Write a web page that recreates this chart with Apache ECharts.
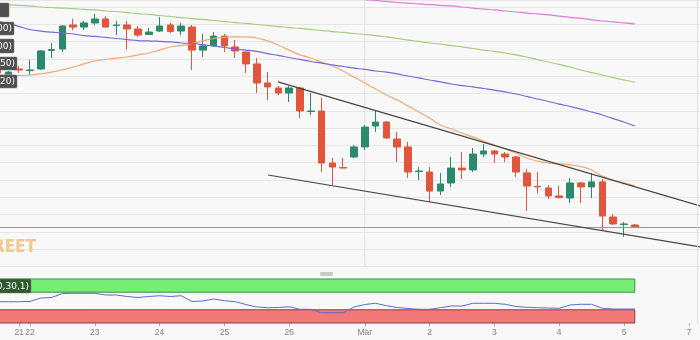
<!DOCTYPE html>
<html><head><meta charset="utf-8">
<script src="https://cdn.jsdelivr.net/npm/echarts@6/dist/echarts.min.js"></script>
<style>html,body{margin:0;padding:0;background:#f8f8f8}#c{width:700px;height:340px}</style>
</head><body><div id="c"></div>
<script>
// XAU/USD 4h candles: [open, close, low, high]
const candles = [
[1784.2,1781.9,1780.7,1785.3],[1780.7,1782.4,1780.1,1783.0],[1784.2,1783.6,1781.9,1785.9],[1783.3,1783.6,1780.7,1789.4],
[1784.2,1794.6,1783.6,1795.1],[1794.9,1795.4,1790.5,1799.2],[1795.7,1809.0,1794.0,1809.6],[1809.6,1808.4,1806.7,1813.1],
[1808.4,1810.8,1806.7,1811.9],[1810.8,1813.1,1809.6,1816.0],[1813.1,1808.4,1808.2,1814.8],[1809.3,1809.6,1803.8,1811.9],
[1809.6,1807.3,1795.7,1811.9],[1807.3,1803.8,1802.7,1809.0],[1804.1,1805.5,1803.8,1807.9],[1806.1,1809.0,1805.5,1814.2],
[1809.6,1805.8,1805.0,1810.8],[1806.1,1809.0,1803.8,1810.8],[1808.4,1795.1,1783.6,1809.6],[1795.1,1797.5,1791.1,1804.4],
[1797.5,1803.2,1796.9,1805.5],[1803.2,1797.5,1794.0,1804.4],[1796.9,1794.6,1790.5,1800.9],[1794.0,1787.1,1781.9,1794.3],
[1787.1,1776.1,1770.3,1790.5],[1776.1,1773.8,1766.2,1782.4],[1773.2,1770.3,1769.1,1774.3],[1770.3,1773.2,1765.1,1774.3],
[1773.2,1759.9,1755.8,1773.8],[1759.6,1759.9,1757.6,1770.3],[1759.9,1729.8,1724.6,1767.4],[1729.8,1727.5,1717.1,1732.7],
[1727.2,1726.9,1726.7,1732.7],[1733.3,1739.1,1732.7,1740.2],[1739.1,1750.6,1737.3,1751.8],[1751.2,1753.5,1747.8,1759.9],
[1753.5,1744.3,1743.7,1754.1],[1743.7,1739.1,1730.4,1747.8],[1739.1,1724.6,1721.2,1742.0],[1724.9,1725.2,1720.0,1727.5],
[1724.6,1713.6,1707.3,1727.5],[1713.6,1717.7,1711.3,1724.1],[1718.3,1726.9,1716.0,1733.3],[1726.9,1725.8,1720.6,1736.2],
[1725.8,1735.0,1724.6,1738.5],[1735.0,1736.8,1733.3,1740.8],[1736.8,1735.0,1729.8,1737.3],[1735.0,1733.3,1730.4,1736.2],
[1733.3,1724.6,1721.7,1733.9],[1724.1,1716.5,1702.1,1726.4],[1716.3,1716.0,1712.5,1724.6],[1715.4,1710.8,1709.0,1717.1],
[1710.8,1709.9,1709.3,1716.5],[1709.6,1718.3,1706.7,1721.2],[1718.3,1716.0,1706.7,1718.9],[1716.0,1718.9,1709.6,1724.1],
[1718.9,1699.2,1690.5,1720.6],[1698.6,1694.6,1694.0,1700.3],[1694.3,1694.6,1687.1,1695.7],[1694.0,1692.8,1692.3,1694.6]
];
const ma20 = [1780.7,1780.7,1780.4,1780.7,1781.3,1782.4,1783.6,1785.3,1787.1,1788.8,1789.7,1790.5,1791.1,1792.3,1793.4,1795.1,
1796.9,1797.7,1798.9,1800.4,1801.8,1802.4,1802.7,1802.7,1802.1,1800.4,1798.0,1795.1,1792.3,1790.5,1788.2,1785.9,1783.0,
1779.5,1776.1,1772.6,1769.1,1766.2,1762.8,1759.3,1755.8,1751.8,1749.5,1747.2,1744.9,1742.5,1740.2,1737.9,1735.6,1732.7,
1731.0,1729.8,1729.3,1728.7,1727.8,1725.8,1722.3,1720.0,1718.3,1716.5];
const ma50 = [1811.6,1810.5,1808.7,1807.0,1806.1,1805.5,1805.0,1804.4,1803.5,1803.0,1802.4,1801.8,1801.2,1800.6,1800.4,1800.1,
1799.8,1799.2,1798.9,1798.3,1797.5,1796.6,1795.7,1795.1,1794.3,1793.1,1792.0,1790.8,1789.7,1788.5,1787.6,1786.5,1785.6,
1784.7,1783.9,1783.0,1782.4,1781.3,1780.1,1779.0,1777.8,1776.7,1775.5,1774.6,1773.8,1772.9,1772.0,1770.9,1769.7,1768.3,
1766.8,1765.4,1763.9,1762.5,1761.0,1759.3,1757.6,1755.5,1753.5,1751.2];
const ma100 = [1822.0,1821.4,1820.9,1820.6,1820.0,1819.7,1819.4,1819.1,1818.6,1818.3,1817.7,1817.4,1816.8,1816.2,1815.7,1815.1,
1814.5,1813.9,1813.3,1812.8,1812.2,1811.6,1811.0,1810.5,1809.9,1809.3,1808.7,1808.1,1807.6,1807.0,1806.4,1805.8,1805.3,
1804.7,1804.1,1803.5,1802.7,1801.8,1800.9,1800.1,1799.2,1798.6,1797.7,1796.9,1796.0,1795.1,1794.3,1793.4,1792.3,1791.1,
1789.6,1788.2,1786.8,1785.3,1783.6,1782.1,1780.7,1779.2,1777.8,1776.6];
const ma200 = [null,null,null,null,null,null,null,null,null,null,null,null,null,null,null,null,null,null,null,null,null,null,
null,null,null,null,null,null,null,null,null,null,null,
1824.9,1824.3,1823.8,1823.2,1822.6,1822.3,1821.8,1821.4,1821.0,1820.6,1820.0,1819.4,1818.8,1818.3,1817.7,1817.1,1816.5,
1816.0,1815.4,1814.7,1814.0,1813.4,1812.6,1811.9,1811.4,1810.8,1810.2];
const osc = [48.4,48.4,48.4,48.9,56.8,58.0,67.0,67.5,67.5,67.5,63.6,63.6,60.2,58.0,60.2,62.0,60.2,62.0,48.9,50.0,54.5,50.7,
48.4,42.0,36.4,34.8,35.2,37.0,31.1,31.1,23.4,23.4,23.4,36.4,42.0,44.8,39.3,35.2,33.0,31.1,31.1,34.8,38.6,38.6,44.8,44.8,
44.8,42.5,37.5,35.7,34.8,34.1,33.4,40.9,42.5,42.5,33.4,31.8,31.8,31.8];
const upperTrend = [[25.96,1776.7],[65.04,1705.0]];
const lowerTrend = [[25.04,1722.9],[65.04,1681.3]];
const lastPrice = 1692.8;
const tickIndex = [2,3,9,15,21,27,34,40,46,52,58,64];
const tickText = ['21','22','23','24','25','26','Mar','2','3','4','5','7'];
const slots = 66;
const monthStart = 34;
const oscHigh = 70, oscLow = 30;

const cats = Array.from({length: slots}, (_, i) => String(i));
const labelA = {}, labelB = {};
tickIndex.forEach((k, j) => { (j % 2 === 0 ? labelA : labelB)[k] = tickText[j]; });
const last = candles.length - 1;

const chart = echarts.init(document.getElementById('c'), null, {renderer: 'canvas'});
const gridBase = {left: -7.8, right: -5, containLabel: false, outerBoundsMode: 'none'};
const boxFont = '9px "DejaVu Sans", sans-serif';
function tag(y, h, w, text, fill) {
  return [
    {type: 'rect', z: 100, shape: {x: -2, y: y, width: w + 2, height: h, r: 1}, style: {fill: fill, stroke: '#777', lineWidth: 0.5}},
    {type: 'text', z: 101, style: {x: w - 2, y: y + h / 2 + 0.5, text: text, align: 'right', verticalAlign: 'middle', fill: '#fff', font: boxFont}}
  ];
}
function dayAxis(map) {
  const has = (i) => map[i] !== undefined;
  return {type: 'category', gridIndex: 1, position: 'bottom', offset: 0, data: cats, boundaryGap: true, axisLine: {show: false},
    axisTick: {show: true, alignWithLabel: true, interval: has, length: 3, lineStyle: {color: '#aaa'}},
    axisLabel: {show: true, interval: has, hideOverlap: false, formatter: (v, i) => map[i] || '', color: '#808080', fontSize: 8.5, margin: 5, fontFamily: '"Liberation Sans", Arial, sans-serif'},
    splitLine: {show: false}};
}
chart.setOption({
  backgroundColor: '#f8f8f8',
  animation: false,
  grid: [
    Object.assign({top: 0, height: 266.5}, gridBase),
    Object.assign({top: 279, height: 44}, gridBase)
  ],
  xAxis: [
    {type: 'category', gridIndex: 0, data: cats, boundaryGap: true, axisLine: {show: false}, axisTick: {show: false}, axisLabel: {show: false}, splitLine: {show: false}},
    dayAxis(labelA),
    {type: 'value', gridIndex: 0, min: -0.5, max: slots - 0.5, show: false},
    dayAxis(labelB)
  ],
  yAxis: [
    {type: 'value', gridIndex: 0, min: 1670, max: 1824.05, interval: 10, axisLine: {show: false}, axisTick: {show: false}, axisLabel: {show: false},
      splitLine: {show: true, lineStyle: {color: '#e6e6e6', width: 1}}},
    {type: 'value', gridIndex: 1, min: 0, max: 100, show: false, splitLine: {show: false}}
  ],
  graphic: [
    {type: 'text', z: 50, style: {x: 36, y: 248, text: 'FXSTREET', align: 'right', verticalAlign: 'middle', fill: '#f3c88c', font: 'bold 17px "DejaVu Sans Condensed", "DejaVu Sans", sans-serif'}},
    {type: 'rect', z: 50, shape: {x: 320, y: 272, width: 13, height: 4, r: 1}, style: {fill: '#c9c9c9'}},
    {type: 'line', z: 50, shape: {x1: 697.5, y1: 0, x2: 697.5, y2: 324}, style: {stroke: '#e2e2e2', lineWidth: 1}},
    ...tag(3, 14, 9, '', '#505050'),
    ...tag(22, 13, 14, 'SMA(200)', '#505050'),
    ...tag(39, 14, 14, 'SMA(100)', '#505050'),
    ...tag(57, 13, 17, 'SMA(50)', '#505050'),
    ...tag(75, 13, 17, 'SMA(20)', '#505050'),
    ...tag(279, 14, 31, 'RSI(14,70,30,1)', '#2e5a2e')
  ],
  series: [
    {type: 'line', xAxisIndex: 2, yAxisIndex: 0, data: [[monthStart, 1670], [monthStart, 1824.05]], showSymbol: false, silent: true, z: 1,
      lineStyle: {color: '#e2e2e2', width: 1}},
    {type: 'candlestick', xAxisIndex: 0, yAxisIndex: 0, data: candles, barWidth: 7, z: 3,
      itemStyle: {color: '#2b8a6c', color0: '#e0553c', borderColor: '#2b8a6c', borderColor0: '#e0553c', borderWidth: 1},
      markLine: {silent: true, symbol: 'none', label: {show: false}, z: 4,
        lineStyle: {color: '#8e9aae', width: 1, type: 'solid'},
        data: [{yAxis: lastPrice}]}},
    {type: 'line', xAxisIndex: 0, yAxisIndex: 0, data: ma20, smooth: true, showSymbol: false, z: 4, lineStyle: {color: '#f1a874', width: 1.2}},
    {type: 'line', xAxisIndex: 0, yAxisIndex: 0, data: ma50, smooth: true, showSymbol: false, z: 4, lineStyle: {color: '#7c66d8', width: 1.2}},
    {type: 'line', xAxisIndex: 0, yAxisIndex: 0, data: ma100, smooth: true, showSymbol: false, z: 4, lineStyle: {color: '#a6cd78', width: 1.2}},
    {type: 'line', xAxisIndex: 0, yAxisIndex: 0, data: ma200, smooth: true, showSymbol: false, z: 4, lineStyle: {color: '#e07ade', width: 1.2}},
    {type: 'line', xAxisIndex: 2, yAxisIndex: 0, data: upperTrend, showSymbol: false, z: 5, lineStyle: {color: '#454545', width: 1.2}},
    {type: 'line', xAxisIndex: 2, yAxisIndex: 0, data: lowerTrend, showSymbol: false, z: 5, lineStyle: {color: '#454545', width: 1.2}},
    {type: 'line', xAxisIndex: 1, yAxisIndex: 1, data: osc, showSymbol: false, z: 5, lineStyle: {color: '#5b6dcf', width: 1},
      markArea: {silent: true, data: [
        [{xAxis: '0', yAxis: oscHigh, itemStyle: {color: '#74ee74', borderColor: '#3e8e3e', borderWidth: 1}}, {xAxis: String(last), yAxis: 100}],
        [{xAxis: '0', yAxis: 0, itemStyle: {color: '#f37878', borderColor: '#8e3e3e', borderWidth: 1}}, {xAxis: String(last), yAxis: oscLow}]
      ]}}
  ]
});
</script>
</body></html>
